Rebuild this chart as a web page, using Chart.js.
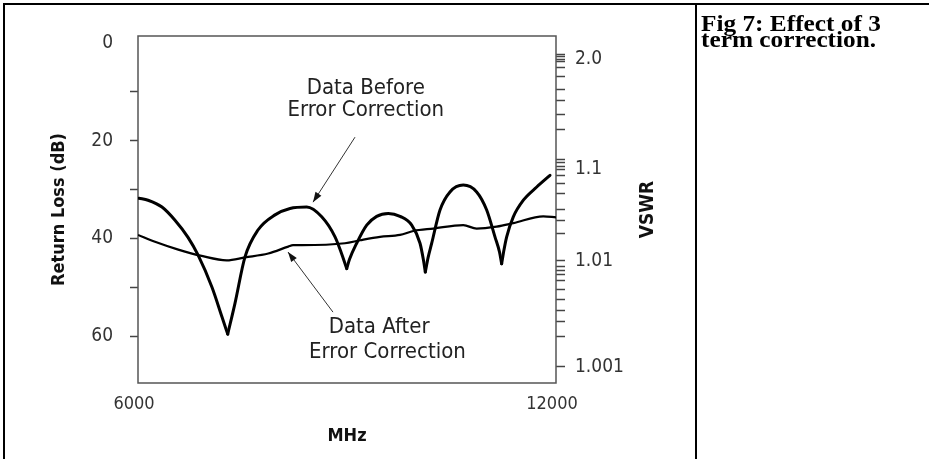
<!DOCTYPE html>
<html>
<head>
<meta charset="utf-8">
<script src="https://cdn.jsdelivr.net/npm/chart.js@4.4.1/dist/chart.umd.min.js"></script>
<style>
  html, body { margin: 0; padding: 0; background: #fff; }
  #page { position: relative; width: 929px; height: 459px; overflow: hidden; }
  #chartBox { position: absolute; left: 0; top: 0; width: 694px; height: 459px; }
  #frame { position: absolute; left: 3px; top: 3px; width: 940px; height: 470px; border-top: 2px solid #000; border-left: 2px solid #000; }
  #divider { position: absolute; left: 695px; top: 3px; width: 2px; height: 460px; background: #000; }
  #caption { position: absolute; left: 701px; top: 16px; font: bold 23px/16px "Liberation Serif", "Times New Roman", serif; color: #000; transform: scaleX(1.1); transform-origin: 0 0; white-space: nowrap; }
</style>
</head>
<body>
<div id="page">
  <div id="chartBox"><canvas id="chart"></canvas></div>
  <div id="frame"></div>
  <div id="divider"></div>
  <div id="caption">Fig 7: Effect of 3<br>term correction.</div>
</div>
<script>
// Данные: частота (МГц) и обратные потери (дБ)
const freqBefore = [6014, 6144, 6344, 6531, 6718, 6861, 7062, 7206, 7288, 7392, 7536, 7722, 7967, 8182,
  8422, 8637, 8828, 8914, 8996, 9036, 9139, 9283, 9426, 9593, 9761, 9929, 10048, 10098, 10124, 10163, 10216,
  10335, 10478, 10669, 10861, 11005, 11124, 11189, 11220, 11253, 11292, 11387, 11531, 11723, 11914];
const lossBefore = [31.8, 32.2, 33.6, 36.3, 39.8, 43.4, 50.0, 56.1, 59.6, 53.3, 43.8, 38.3, 35.2, 33.9,
  33.6, 35.6, 39.7, 42.8, 46.2, 44.3, 41.0, 37.3, 35.5, 34.9, 35.5, 37.3, 41.0, 44.5, 46.9, 44.0, 41.0,
  34.2, 30.5, 29.1, 30.5, 34.2, 39.7, 42.8, 45.2, 42.4, 39.7, 35.6, 32.2, 29.5, 27.1];

const freqAfter = [6000, 6244, 6578, 6914, 7273, 7536, 7870, 8157, 8225, 8350, 8971, 9187, 9474, 9761, 9952,
  10239, 10669, 10861, 11148, 11387, 11818, 12000];
const lossAfter = [39.3, 40.7, 42.3, 43.6, 44.5, 43.9, 43.1, 41.7, 41.4, 41.4, 41.0, 40.4, 39.7, 39.3, 38.5,
  38.0, 37.3, 38.0, 37.6, 36.9, 35.5, 35.7];

// Подписи осей
const freqTicks = [6000, 12000];
const lossTicks = [0, 10, 20, 30, 40, 50, 60];
const lossLabels = ['0', '', '20', '', '40', '', '60'];
// Шкала КСВ справа: позиции делений (в дБ левой шкалы) и подписи
const vswrTickDb = [2.3, 2.8, 3.4, 3.9, 5.0, 6.9, 9.5, 11.7, 14.6, 17.7, 23.8, 24.5, 25.2, 25.9, 27.1, 28.8,
  30.8, 34.0, 36.3, 39.1, 44.6, 45.7, 46.6, 47.5, 48.6, 50.5, 52.6, 54.7, 57.1, 60.0, 66.3];
const vswrMajorDb = [3.4, 25.9, 44.6, 66.3];
const vswrLabels = ['2.0', '1.1', '1.01', '1.001'];

// Надписи и стрелки на графике
const notes = [
  { text: 'Data Before', freq: 9270, loss: 9.2 },
  { text: 'Error Correction', freq: 9270, loss: 13.7 },
  { text: 'Data After', freq: 9462, loss: 58.2 },
  { text: 'Error Correction', freq: 9581, loss: 63.3 }
];
const arrows = [
  { from: [9115, 19.3], to: [8512, 32.6] },
  { from: [8799, 55.1], to: [8153, 42.8] }
];

const narrow = '"Liberation Sans Narrow", "Arial Narrow", "DejaVu Sans Condensed", sans-serif';

// Кривая "до коррекции" режется на дуги в точках провалов, чтобы провалы остались острыми
const cusps = [0];
for (let i = 1; i < lossBefore.length - 1; i++) {
  if (lossBefore[i] > lossBefore[i - 1] && lossBefore[i] > lossBefore[i + 1]) cusps.push(i);
}
cusps.push(lossBefore.length - 1);

const beforeArcs = [];
for (let k = 0; k < cusps.length - 1; k++) {
  const pts = [];
  for (let i = cusps[k]; i <= cusps[k + 1]; i++) pts.push({ x: freqBefore[i], y: lossBefore[i] });
  beforeArcs.push({
    label: 'Data Before Error Correction',
    data: pts,
    borderColor: '#000',
    borderWidth: 3,
    borderCapStyle: 'round',
    pointRadius: 0,
    cubicInterpolationMode: 'monotone',
    fill: false
  });
}

const extras = {
  id: 'extras',
  beforeDatasetsDraw(chart) {
    const { ctx, chartArea: a } = chart;
    ctx.save();
    ctx.strokeStyle = '#555';
    ctx.lineWidth = 1.5;
    ctx.strokeRect(a.left, a.top, a.right - a.left, a.bottom - a.top);
    ctx.restore();
  },
  afterDraw(chart) {
    const { ctx, chartArea: a, scales } = chart;
    const x = scales.x, y = scales.y;
    ctx.save();
    ctx.fillStyle = '#222';
    ctx.font = '22px ' + narrow;
    ctx.textAlign = 'center';
    ctx.textBaseline = 'middle';
    notes.forEach(n => ctx.fillText(n.text, x.getPixelForValue(n.freq), y.getPixelForValue(n.loss)));

    ctx.strokeStyle = '#333';
    ctx.lineWidth = 1;
    arrows.forEach(ar => {
      const x0 = x.getPixelForValue(ar.from[0]), y0 = y.getPixelForValue(ar.from[1]);
      const x1 = x.getPixelForValue(ar.to[0]), y1 = y.getPixelForValue(ar.to[1]);
      const ang = Math.atan2(y1 - y0, x1 - x0);
      ctx.beginPath();
      ctx.moveTo(x0, y0);
      ctx.lineTo(x1, y1);
      ctx.stroke();
      ctx.beginPath();
      ctx.moveTo(x1, y1);
      ctx.lineTo(x1 - 10 * Math.cos(ang) + 3.5 * Math.sin(ang), y1 - 10 * Math.sin(ang) - 3.5 * Math.cos(ang));
      ctx.lineTo(x1 - 10 * Math.cos(ang) - 3.5 * Math.sin(ang), y1 - 10 * Math.sin(ang) + 3.5 * Math.cos(ang));
      ctx.closePath();
      ctx.fillStyle = '#111';
      ctx.fill();
    });

    // подпись правой оси, снизу вверх
    ctx.translate(scales.y2.left + 92, (a.top + a.bottom) / 2);
    ctx.rotate(-Math.PI / 2);
    ctx.fillStyle = '#111';
    ctx.font = 'bold 19px ' + narrow;
    ctx.fillText('VSWR', 0, 0);
    ctx.restore();
  }
};

new Chart(document.getElementById('chart'), {
  type: 'line',
  data: {
    datasets: beforeArcs.concat([
      {
        label: 'Data After Error Correction',
        data: freqAfter.map((f, i) => ({ x: f, y: lossAfter[i] })),
        borderColor: '#000',
        borderWidth: 2.2,
        pointRadius: 0,
        cubicInterpolationMode: 'monotone',
        fill: false
      }
    ])
  },
  options: {
    responsive: true,
    maintainAspectRatio: false,
    animation: false,
    devicePixelRatio: 1,
    layout: { padding: { top: 36, left: 0, right: 0, bottom: 0 } },
    plugins: {
      legend: { display: false },
      tooltip: { enabled: false }
    },
    scales: {
      x: {
        type: 'linear',
        min: 6000,
        max: 12000,
        afterBuildTicks: (s) => { s.ticks = freqTicks.map(v => ({ value: v })); },
        afterFit: (s) => { s.height = 76; },
        grid: { display: false },
        border: { display: false },
        ticks: {
          autoSkip: false,
          maxRotation: 0,
          padding: 3,
          labelOffset: -4,
          color: '#333',
          font: { family: narrow, size: 18 },
          callback: (v) => String(v)
        },
        title: {
          display: true,
          text: 'MHz',
          color: '#111',
          font: { family: narrow, size: 18, weight: 'bold' },
          padding: { top: 0, bottom: 12 }
        }
      },
      y: {
        type: 'linear',
        position: 'left',
        reverse: true,
        min: -1.4,
        max: 69.6,
        afterBuildTicks: (s) => { s.ticks = lossTicks.map(v => ({ value: v })); },
        afterFit: (s) => { s.width = 138; },
        grid: {
          drawOnChartArea: false,
          drawTicks: true,
          tickLength: 8,
          tickWidth: 1.5,
          tickColor: (c) => (c.tick && c.tick.value === 0 ? 'rgba(0,0,0,0)' : '#444')
        },
        border: { display: false },
        ticks: {
          autoSkip: false,
          padding: 17,
          color: '#333',
          font: { family: narrow, size: 19 },
          callback: (v, i) => lossLabels[i]
        },
        title: {
          display: true,
          text: 'Return Loss (dB)',
          color: '#111',
          font: { family: narrow, size: 18, weight: 'bold' },
          padding: { top: 49, bottom: 0 }
        }
      },
      y2: {
        type: 'linear',
        position: 'right',
        reverse: true,
        min: -1.4,
        max: 69.6,
        afterBuildTicks: (s) => { s.ticks = vswrTickDb.map(v => ({ value: v })); },
        afterFit: (s) => { s.width = 138; },
        grid: {
          drawOnChartArea: false,
          drawTicks: true,
          tickLength: 9,
          tickWidth: 1.5,
          tickColor: '#444'
        },
        border: { display: false },
        ticks: {
          autoSkip: false,
          padding: 10,
          color: '#333',
          font: { family: narrow, size: 19 },
          callback: (v) => {
            const k = vswrMajorDb.indexOf(v);
            return k >= 0 ? vswrLabels[k] : '';
          }
        }
      }
    }
  },
  plugins: [extras]
});
</script>
</body>
</html>
